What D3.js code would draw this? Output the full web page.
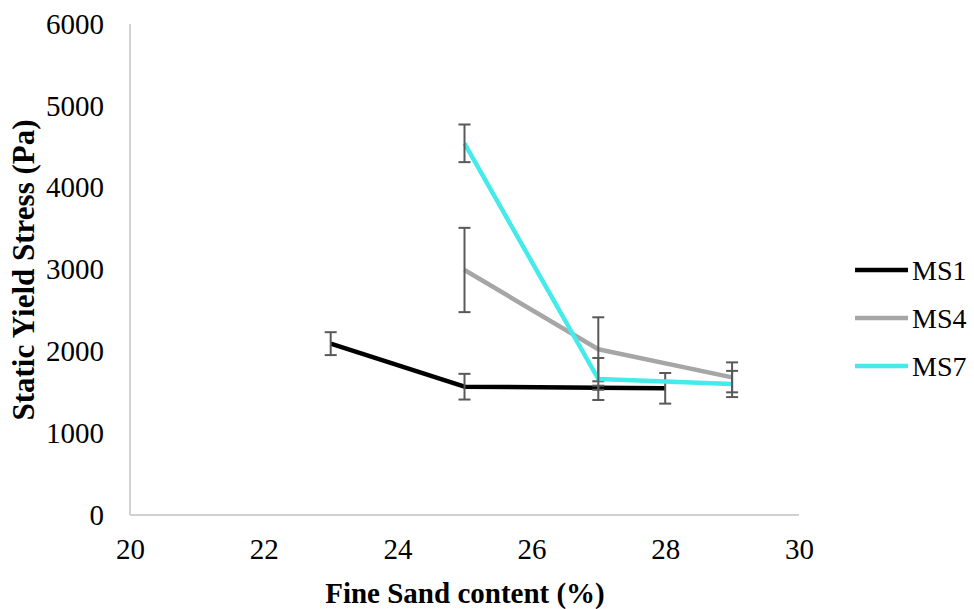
<!DOCTYPE html>
<html><head><meta charset="utf-8">
<script src="https://cdn.jsdelivr.net/npm/d3@7"></script>
<style>body{margin:0;background:#fff}svg{display:block}</style>
</head><body>
<svg id="c" width="974" height="609"></svg>
<script>
const seriesNames = ["MS1", "MS4", "MS7"];
const seriesColors = ["#000000", "#a6a6a6", "#45eaea"];
const ms1X = [23, 25, 27, 28];
const ms1Y = [2094, 1568, 1555, 1548];
const ms1Err = [140, 157, 25, 187];
const ms4X = [25, 27, 29];
const ms4Y = [2994, 2025, 1682];
const ms4Err = [515, 391, 183];
const ms7X = [25, 27, 29];
const ms7Y = [4542, 1662, 1601];
const ms7Err = [230, 257, 160];
const xTicks = [20, 22, 24, 26, 28, 30];
const yTicks = [0, 1000, 2000, 3000, 4000, 5000, 6000];

const series = [
  {name: seriesNames[0], color: seriesColors[0], xs: ms1X, ys: ms1Y, es: ms1Err},
  {name: seriesNames[1], color: seriesColors[1], xs: ms4X, ys: ms4Y, es: ms4Err},
  {name: seriesNames[2], color: seriesColors[2], xs: ms7X, ys: ms7Y, es: ms7Err}
];

const svg = d3.select("#c");
const x = d3.scaleLinear().domain([20, 30]).range([130, 799]);
const y = d3.scaleLinear().domain([0, 6000]).range([515, 24]);
const font = "'Liberation Serif','Times New Roman',serif";

// axes lines
svg.append("line").attr("x1", 130).attr("x2", 130).attr("y1", y(6000)).attr("y2", y(0))
  .attr("stroke", "#d0d0d0").attr("stroke-width", 2);
svg.append("line").attr("x1", x(20)).attr("x2", x(30)).attr("y1", y(0)).attr("y2", y(0))
  .attr("stroke", "#d0d0d0").attr("stroke-width", 2);

// tick labels
const xa = svg.append("g").attr("transform", `translate(0,${y(0)})`)
  .call(d3.axisBottom(x).tickValues(xTicks).tickSize(0).tickPadding(23).tickFormat(d3.format("d")));
xa.select(".domain").remove();
xa.selectAll("text").attr("font-family", font).attr("font-size", 29).attr("fill", "#000");
const ya = svg.append("g").attr("transform", `translate(130,0)`)
  .call(d3.axisLeft(y).tickValues(yTicks).tickSize(0).tickPadding(26).tickFormat(d3.format("d")));
ya.select(".domain").remove();
ya.selectAll("text").attr("font-family", font).attr("font-size", 29).attr("fill", "#000");

// series
const line = d3.line().x(d => x(d[0])).y(d => y(d[1]));
series.forEach(s => {
  const pts = s.xs.map((v, i) => [v, s.ys[i], s.es[i]]);
  svg.append("path").datum(pts).attr("d", line).attr("fill", "none")
    .attr("stroke", s.color).attr("stroke-width", 4.5).attr("stroke-linejoin", "round");
  const g = svg.append("g").attr("stroke", "#595959").attr("stroke-width", 2);
  pts.forEach(p => {
    g.append("line").attr("x1", x(p[0])).attr("x2", x(p[0])).attr("y1", y(p[1] - p[2])).attr("y2", y(p[1] + p[2]));
    g.append("line").attr("x1", x(p[0]) - 6).attr("x2", x(p[0]) + 6).attr("y1", y(p[1] + p[2])).attr("y2", y(p[1] + p[2]));
    g.append("line").attr("x1", x(p[0]) - 6).attr("x2", x(p[0]) + 6).attr("y1", y(p[1] - p[2])).attr("y2", y(p[1] - p[2]));
  });
});

// axis titles
svg.append("text").attr("x", 465).attr("y", 603).attr("text-anchor", "middle")
  .attr("font-family", font).attr("font-size", 29).attr("font-weight", "bold").text("Fine Sand content (%)");
svg.append("text").attr("transform", "translate(34,270) rotate(-90)").attr("text-anchor", "middle")
  .attr("font-family", font).attr("font-size", 31).attr("font-weight", "bold").text("Static Yield Stress (Pa)");

// legend
series.forEach((s, i) => {
  const ly = 270 + i * 48;
  svg.append("line").attr("x1", 855).attr("x2", 908).attr("y1", ly).attr("y2", ly)
    .attr("stroke", s.color).attr("stroke-width", 4.5);
  svg.append("text").attr("x", 912).attr("y", ly).attr("dy", "0.35em")
    .attr("font-family", font).attr("font-size", 28).attr("fill", "#000").text(s.name);
});
</script>
</body></html>
